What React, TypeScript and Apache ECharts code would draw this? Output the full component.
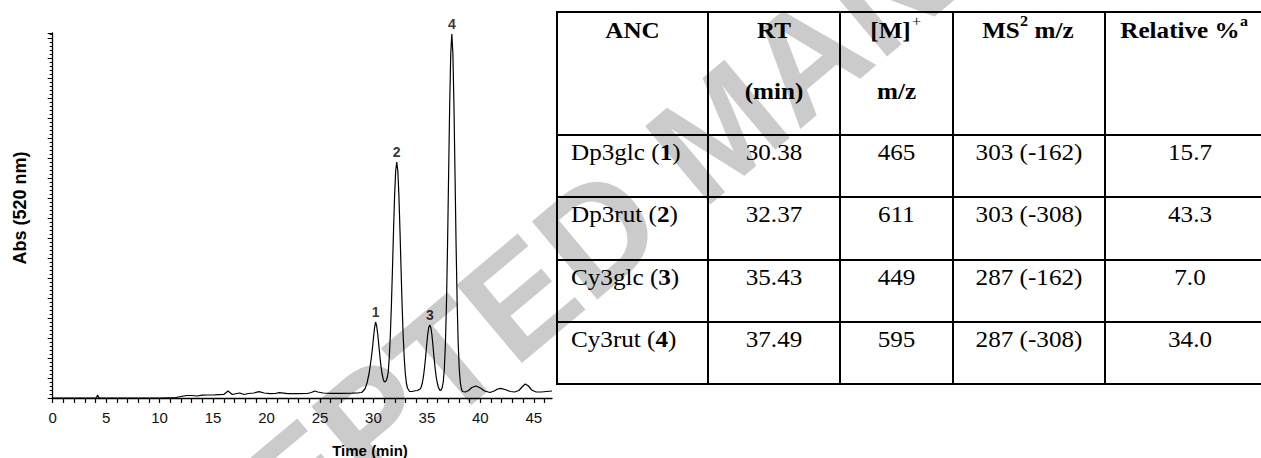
import React, { useEffect, useRef } from "react";
import * as echarts from "echarts";

// ---- Chromatogram data (retention time in min, absorbance in arbitrary units) ----
const trace: [number, number][] = [
  [0, 0], [1, 0], [2, 0], [3, 0], [4, 0], [4.1, 0.5], [4.2, 3], [4.3, 0.5], [4.5, 0], [5.5, 0],
  [10, 0], [11.5, 0.5], [12, 1.5], [12.5, 2.5], [13, 2.5], [13.5, 2], [14, 2.8], [14.5, 3], [15, 3],
  [15.5, 3.3], [16, 3.5], [16.4, 7], [16.8, 3.5], [17.2, 4.5], [17.5, 5], [17.9, 3.5], [18.3, 4.5],
  [18.8, 5], [19.3, 6.3], [19.8, 5], [20.3, 4.3], [20.8, 4.5], [21.2, 5.3], [21.6, 4.8], [22, 4.3],
  [23, 4.3], [23.8, 4.5], [24.2, 5.5], [24.5, 7], [24.8, 6], [25.3, 5], [26, 4.7], [27, 4.7], [28, 4.8],
  [28.5, 5], [28.9, 5.5], [29.2, 9], [29.4, 15], [29.6, 25], [29.8, 40], [29.9, 49], [30.0, 60],
  [30.1, 70], [30.2, 76], [30.3, 72], [30.4, 64], [30.5, 53], [30.6, 42], [30.7, 32], [30.8, 24.5],
  [30.9, 19.5], [31.0, 16.5], [31.1, 16], [31.2, 17.5], [31.3, 21], [31.38, 25.5], [31.48, 40.5],
  [31.58, 63], [31.68, 93], [31.78, 129.5], [31.88, 168], [31.98, 203], [32.08, 227], [32.18, 236],
  [32.28, 227], [32.38, 203], [32.48, 168], [32.58, 129.5], [32.68, 93], [32.78, 62.5], [32.88, 40],
  [32.98, 24.5], [33.08, 15], [33.18, 10], [33.38, 6.5], [33.6, 6.5], [33.8, 7], [34.1, 7.5],
  [34.37, 9], [34.47, 11], [34.57, 15], [34.67, 21], [34.77, 29.5], [34.87, 40], [34.97, 52],
  [35.07, 63], [35.17, 70.5], [35.27, 73], [35.37, 70.5], [35.47, 63], [35.57, 52], [35.67, 40],
  [35.77, 29.5], [35.87, 21], [35.97, 15], [36.07, 11], [36.17, 8.5], [36.25, 7.5], [36.33, 8],
  [36.43, 10.5], [36.53, 16], [36.63, 29], [36.73, 54], [36.83, 94.5], [36.93, 152.5], [37.03, 223],
  [37.13, 292.5], [37.23, 344.5], [37.33, 364], [37.43, 344.5], [37.53, 292.5], [37.63, 223],
  [37.73, 152.5], [37.83, 94.5], [37.93, 53.5], [38.03, 28.5], [38.13, 15], [38.23, 9], [38.33, 6.5],
  [38.6, 6], [38.9, 7.5], [39.2, 10.5], [39.6, 12], [40.0, 10], [40.4, 7], [40.9, 5.5], [41.3, 7],
  [41.6, 9], [41.9, 9.7], [42.3, 8.5], [42.8, 6.5], [43.2, 6], [43.6, 7.5], [43.9, 11], [44.2, 14],
  [44.5, 12], [44.8, 8], [45.2, 6], [45.7, 6], [46.2, 6.5], [46.7, 7],
];

const peakLabels = ["1", "2", "3", "4"];
const peakTimes = [30.2, 32.18, 35.27, 37.33];
const peakAbs = [76, 236, 73, 364];

const xAxisMax = 46.7;
const yAxisMax = 365;
const xLabelStep = 5;

// ---- Table data ----
const ancNames = ["Dp3glc", "Dp3rut", "Cy3glc", "Cy3rut"];
const ancIds = ["1", "2", "3", "4"];
const rtValues = ["30.38", "32.37", "35.43", "37.49"];
const mzValues = ["465", "611", "449", "595"];
const ms2Values = ["303 (-162)", "303 (-308)", "287 (-162)", "287 (-308)"];
const relValues = ["15.7", "43.3", "7.0", "34.0"];

const SANS = "Liberation Sans, Arial, sans-serif";
const SERIF_FAMILY = "Liberation Serif";
const TABLE_FONT = 23.5;
const TABLE_SCALE_X = 1.07;

function serifFont(size: number, bold: boolean) {
  return `${bold ? "bold" : "normal"} ${size}px "Liberation Serif", "Times New Roman", serif`;
}

function txt(
  x: number,
  y: number,
  text: string,
  opts: { size?: number; bold?: boolean; align?: string; rich?: any } = {}
) {
  const size = opts.size ?? TABLE_FONT;
  const bold = !!opts.bold;
  const align = opts.align ?? "center";
  return {
    type: "text",
    x,
    y,
    scaleX: TABLE_SCALE_X,
    z: 10,
    style: {
      text,
      fill: "#000",
      font: serifFont(size, bold),
      fontSize: size,
      fontFamily: SERIF_FAMILY,
      fontWeight: bold ? "bold" : "normal",
      align,
      textAlign: align,
      verticalAlign: "middle",
      textVerticalAlign: "middle",
      rich: opts.rich,
    },
  };
}

function hline(y: number, x1: number, x2: number) {
  return {
    type: "line",
    z: 10,
    shape: { x1, y1: y, x2, y2: y },
    style: { stroke: "#000", lineWidth: 2 },
  };
}
function vline(x: number, y1: number, y2: number) {
  return {
    type: "line",
    z: 10,
    shape: { x1: x, y1, x2: x, y2 },
    style: { stroke: "#000", lineWidth: 2 },
  };
}

export default function App() {
  const ref = useRef<HTMLDivElement>(null);

  useEffect(() => {
    if (!ref.current) return;
    const chart = echarts.init(ref.current, undefined, { renderer: "svg" });

    // table geometry
    const colX = [557, 708, 840, 953, 1105, 1275];
    const rowY = [12, 135, 197, 260, 322, 384];
    const colCenters = colX.slice(0, 5).map((x, i) => (x + colX[i + 1]) / 2);

    const tableEls: any[] = [];
    rowY.forEach((y) => tableEls.push(hline(y, colX[0] - 1, colX[5])));
    colX.forEach((x) => tableEls.push(vline(x, rowY[0] - 1, rowY[5] + 1)));

    // header
    const h1 = 30;
    const h2 = 91;
    tableEls.push(txt(colCenters[0], h1, "ANC", { bold: true }));
    tableEls.push(txt(colCenters[1], h1, "RT", { bold: true }));
    tableEls.push(txt(colCenters[1], h2, "(min)", { bold: true }));
    tableEls.push(txt(colCenters[2] - 6, h1, "[M]", { bold: true }));
    tableEls.push(txt(colCenters[2] + 20, h1 - 9, "+", { size: 15 }));
    tableEls.push(txt(colCenters[2], h2, "m/z", { bold: true }));
    tableEls.push(txt(1001, h1, "MS", { bold: true }));
    tableEls.push(txt(1024, h1 - 9, "2", { bold: true, size: 15 }));
    tableEls.push(txt(1054, h1, "m/z", { bold: true }));
    tableEls.push(txt(1180, h1, "Relative %", { bold: true }));
    tableEls.push(txt(1244, h1 - 9, "a", { bold: true, size: 15 }));

    const rich = {
      n: { font: serifFont(TABLE_FONT, false), fontSize: TABLE_FONT, fontFamily: SERIF_FAMILY, fontWeight: "normal", fill: "#000" },
      b: { font: serifFont(TABLE_FONT, true), fontSize: TABLE_FONT, fontFamily: SERIF_FAMILY, fontWeight: "bold", fill: "#000" },
    };
    ancNames.forEach((name, i) => {
      const cy = rowY[i + 1] + 17;
      tableEls.push(txt(571, cy, `{n|${name} (}{b|${ancIds[i]}}{n|)}`, { align: "left", rich }));
      tableEls.push(txt(colCenters[1], cy, rtValues[i]));
      tableEls.push(txt(colCenters[2], cy, mzValues[i]));
      tableEls.push(txt(colCenters[3], cy, ms2Values[i]));
      tableEls.push(txt(1190, cy, relValues[i]));
    });

    const wmAngle = (40 * Math.PI) / 180;
    const watermark = {
      type: "text",
      x: 15,
      y: 721,
      rotation: wmAngle,
      z: -10,
      silent: true,
      style: {
        text: "ACCEPTED MANUSCRIPT",
        fill: "#cbcbcb",
        fontSize: 148,
        fontWeight: "bold",
        fontFamily: SANS,
        align: "left",
        textAlign: "left",
        verticalAlign: "middle",
        textVerticalAlign: "middle",
      },
    };

    const axisTitles = [
      {
        type: "text",
        x: 20,
        y: 208,
        rotation: Math.PI / 2,
        z: 10,
        style: {
          text: "Abs (520 nm)",
          fill: "#000",
          fontSize: 18,
          fontWeight: "bold",
          fontFamily: SANS,
          align: "center",
          textAlign: "center",
          verticalAlign: "middle",
          textVerticalAlign: "middle",
        },
      },
      {
        type: "text",
        x: 370,
        y: 450,
        z: 10,
        style: {
          text: "Time (min)",
          fill: "#000",
          fontSize: 15,
          fontWeight: "bold",
          fontFamily: SANS,
          align: "center",
          textAlign: "center",
          verticalAlign: "middle",
          textVerticalAlign: "middle",
        },
      },
    ];

    chart.setOption({
      animation: false,
      backgroundColor: "#fff",
      grid: { left: 52.7, right: 1261 - 552, top: 33, bottom: 458 - 398 },
      xAxis: {
        type: "value",
        min: 0,
        max: xAxisMax,
        interval: 1,
        axisLine: { show: true, lineStyle: { color: "#000", width: 1.3 } },
        axisTick: { show: true, inside: false, length: 5, lineStyle: { color: "#000", width: 1.2 } },
        axisLabel: {
          show: true,
          margin: 12,
          fontSize: 15,
          fontFamily: SANS,
          color: "#111",
          showMaxLabel: false,
          formatter: (v: number) => (Math.abs(v % xLabelStep) < 1e-6 ? String(Math.round(v)) : ""),
        },
        splitLine: { show: false },
      },
      yAxis: {
        type: "value",
        min: 0,
        max: yAxisMax,
        interval: 20,
        axisLine: { show: true, lineStyle: { color: "#000", width: 1.3 } },
        axisTick: { show: true, inside: false, length: 5, lineStyle: { color: "#000", width: 1 } },
        minorTick: { show: true, splitNumber: 5, length: 3, lineStyle: { color: "#000", width: 1 } },
        axisLabel: { show: false },
        splitLine: { show: false },
        minorSplitLine: { show: false },
      },
      graphic: { elements: [watermark, ...axisTitles, ...tableEls] },
      series: [
        {
          type: "line",
          data: trace,
          showSymbol: false,
          symbol: "none",
          z: 3,
          lineStyle: { color: "#000", width: 1.2 },
          silent: true,
        },
        {
          type: "scatter",
          data: peakTimes.map((t, i) => [t, peakAbs[i]]),
          symbolSize: 1,
          itemStyle: { color: "rgba(0,0,0,0)" },
          z: 4,
          label: {
            show: true,
            position: "top",
            distance: 3,
            fontSize: 14,
            fontWeight: "bold",
            fontFamily: SANS,
            color: "#000",
            formatter: (p: any) => peakLabels[p.dataIndex],
          },
        },
      ],
    });

    return () => chart.dispose();
  }, []);

  return (
    <div
      ref={ref}
      style={{ position: "fixed", left: 0, top: 0, width: 1261, height: 458, background: "#fff" }}
    />
  );
}
